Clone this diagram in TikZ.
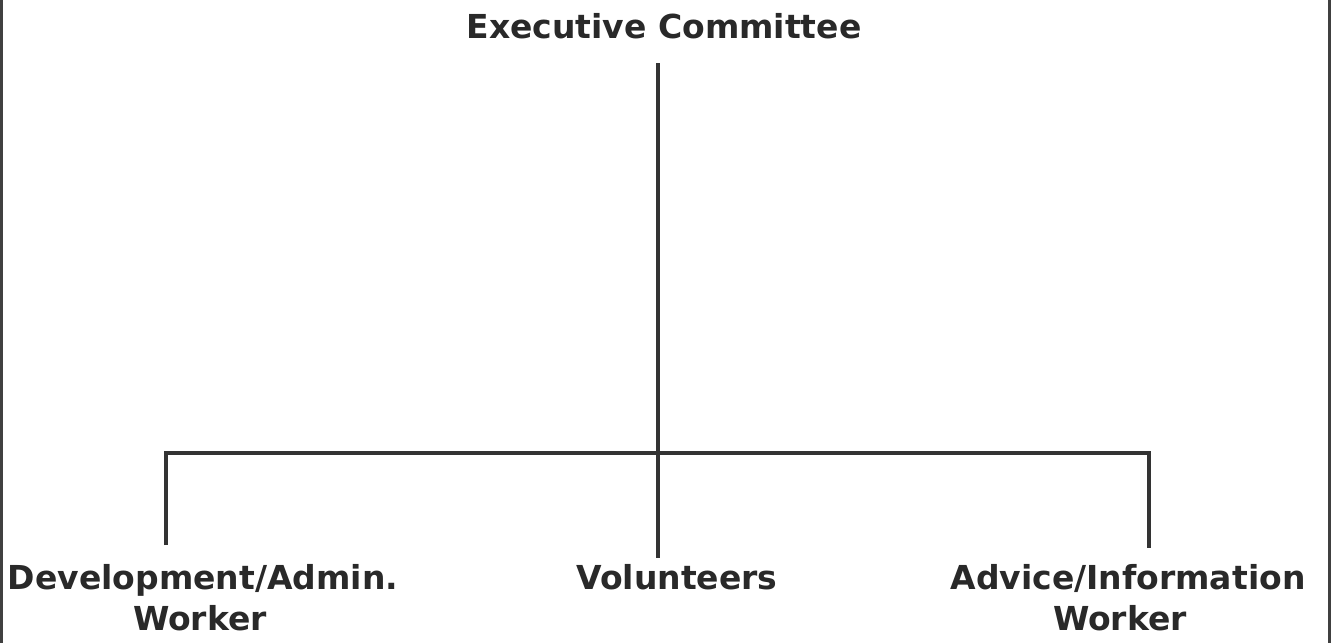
\documentclass[tikz,border=0pt]{standalone}
\usepackage{fontspec}
\setmainfont{DejaVu Sans}
\begin{document}
\begin{tikzpicture}[x=1pt,y=-1pt,
  label/.style={font=\bfseries\fontsize{33}{40}\selectfont, text=black!84, inner sep=0pt, anchor=base},
  link/.style={draw=black!80, line width=4.5pt},
  frame/.style={draw=black!75, line width=3pt}]
  % canvas
  \useasboundingbox (0,0) rectangle (1336,643);
  \fill[white] (0,0) rectangle (1336,643);
  % side rules
  \draw[frame] (1.5,0) -- (1.5,643);
  \draw[frame] (1329,0) -- (1329,643);
  % roles
  \node[label] (exec) at (664,38) {Executive Committee};
  \node[label] (dev) at (203,589) {Development/Admin.};
  \node[label] (dev2) at (200,630) {Worker};
  \node[label] (vol) at (677,589) {Volunteers};
  \node[label] (adv) at (1128,589) {Advice/Information};
  \node[label] (adv2) at (1120,630) {Worker};
  % junction points
  \coordinate (top) at (658,63);
  \coordinate (hub) at (658,453);
  \coordinate (lj) at (166,453);
  \coordinate (rj) at (1149,453);
  \coordinate (le) at (166,545);
  \coordinate (ce) at (658,558);
  \coordinate (re) at (1149,548);
  % connectors
  \draw[link] (top) -- (ce);
  \draw[link] (le) -- (lj) -- (rj) -- (re);
\end{tikzpicture}
\end{document}
